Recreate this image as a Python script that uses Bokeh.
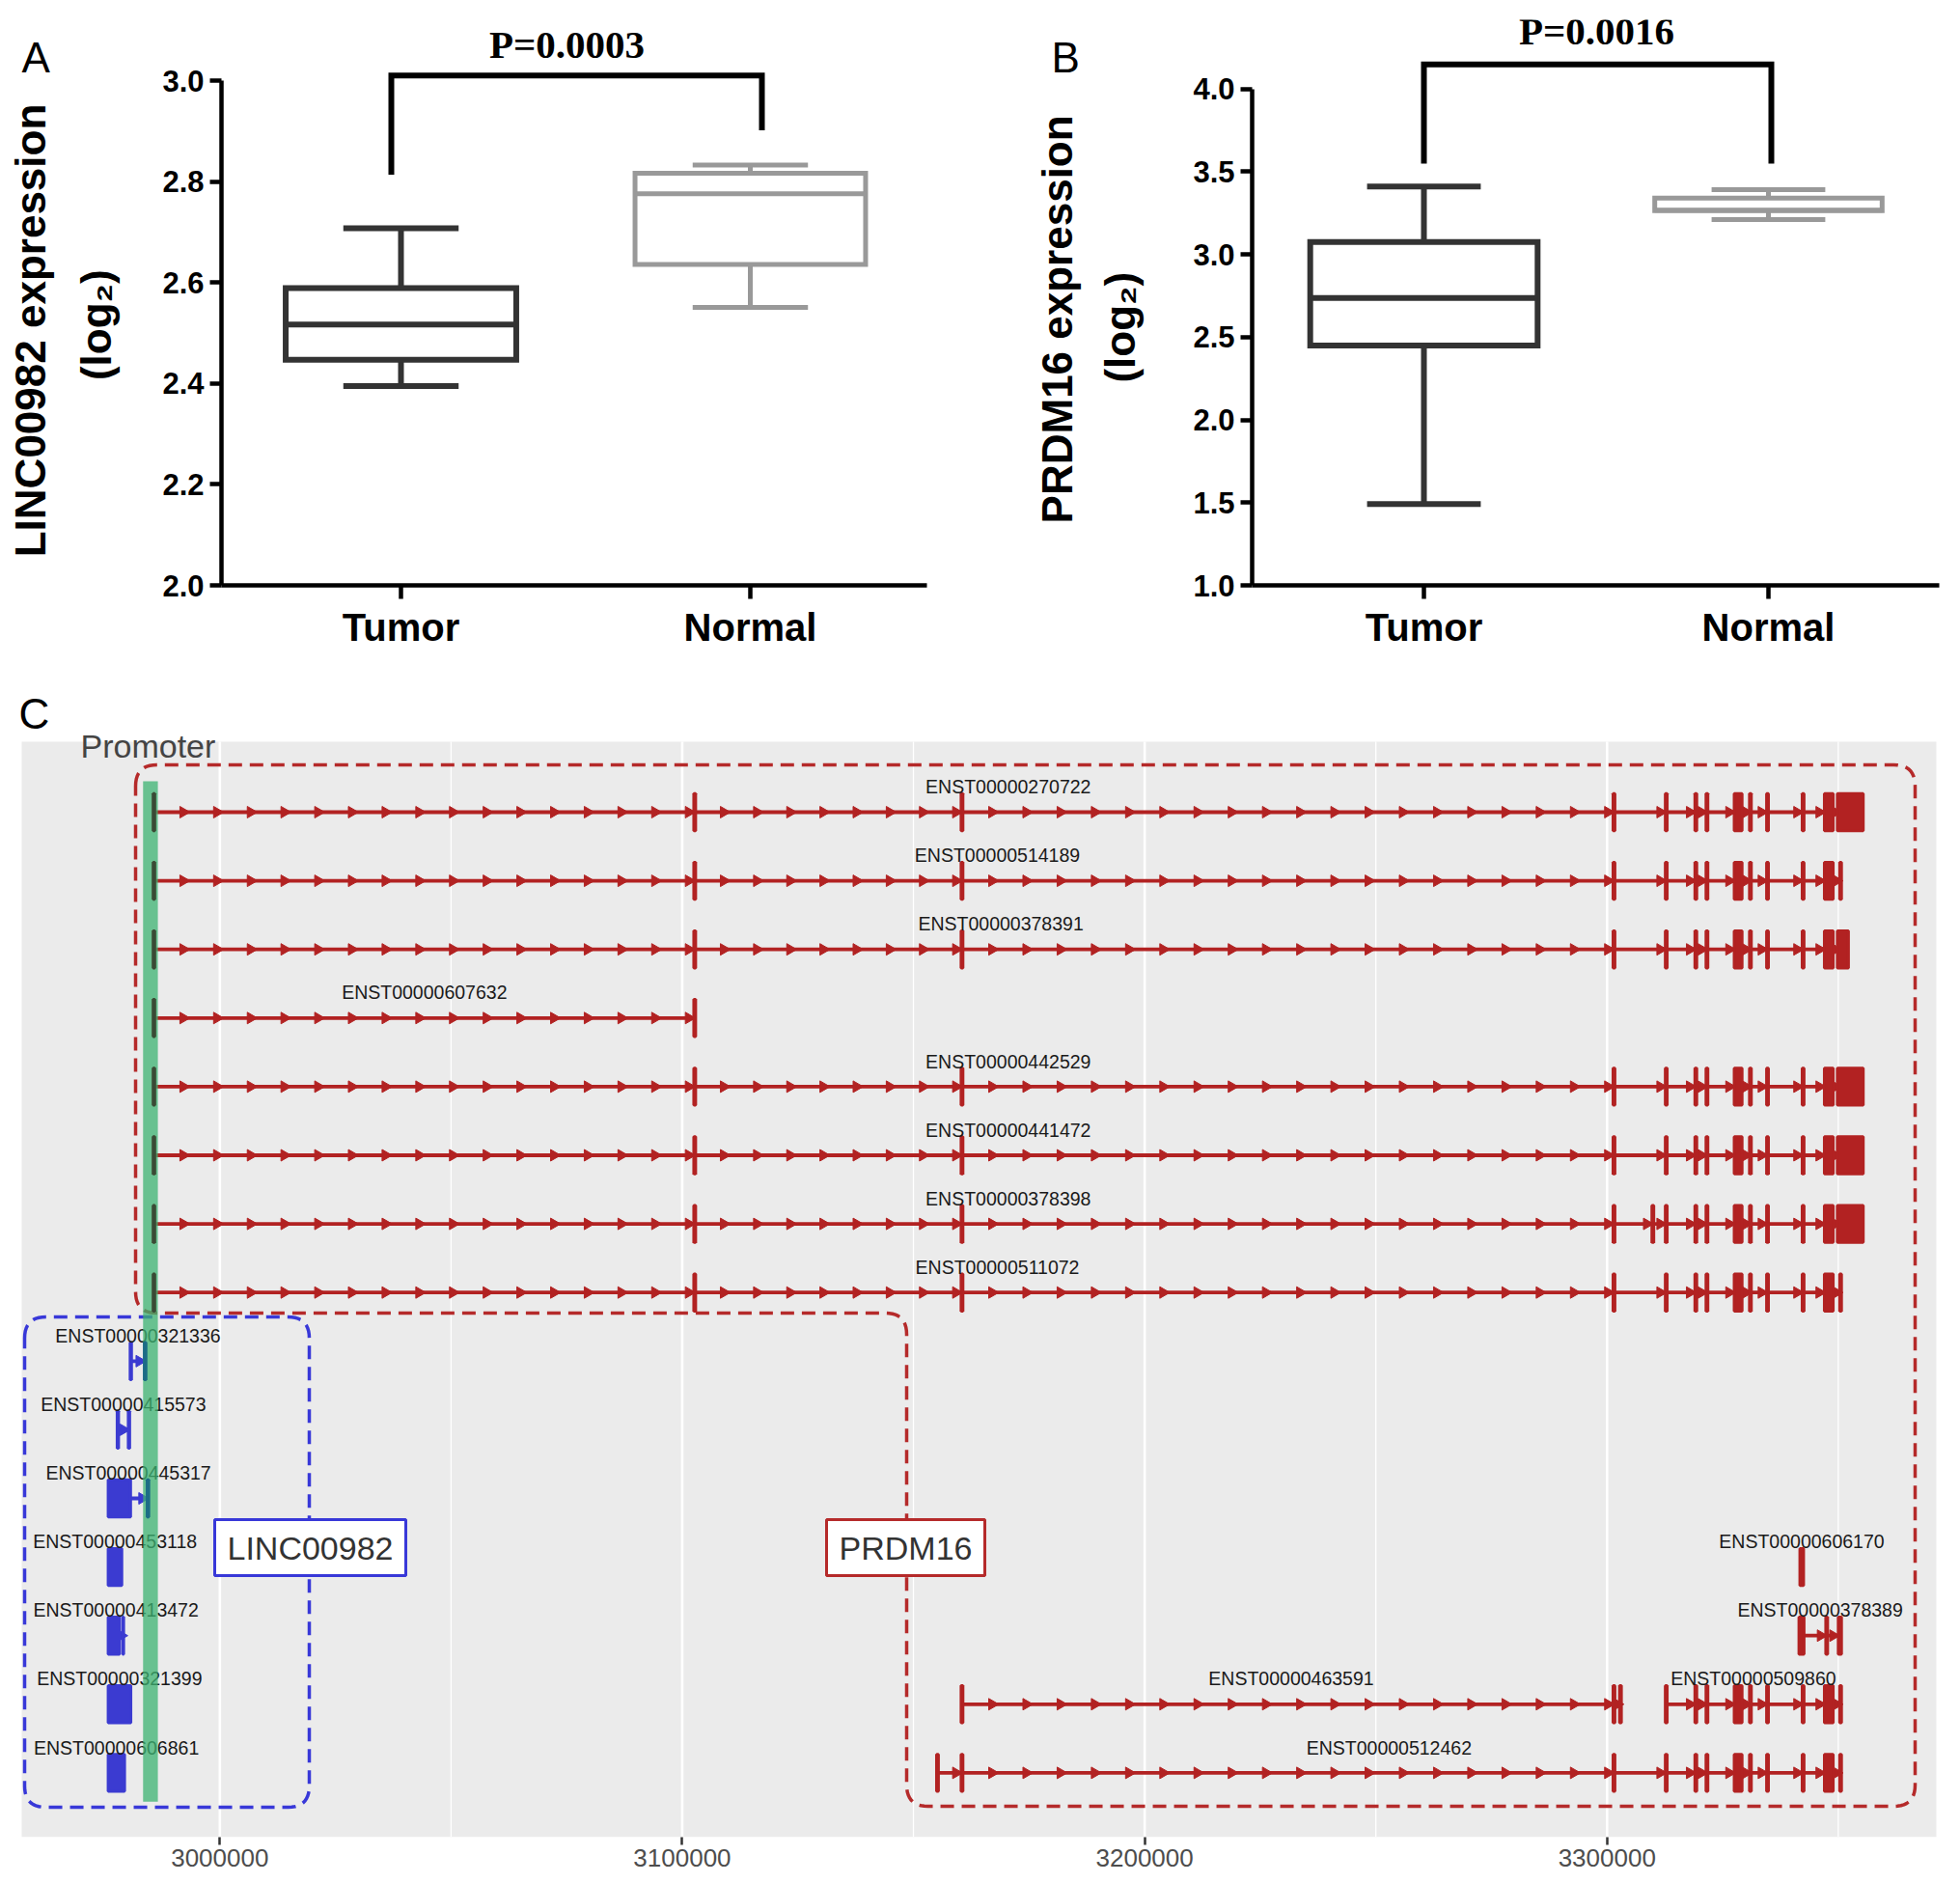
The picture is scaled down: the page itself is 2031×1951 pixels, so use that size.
import math
import numpy as np
from bokeh.plotting import figure
from bokeh.layouts import column, row
from bokeh.models import Range1d, FixedTicker, NumeralTickFormatter
from bokeh.core.properties import value
from bokeh.embed import file_html
from bokeh.resources import INLINE

SANS = "Liberation Sans"
SERIF = "Liberation Serif"

# ---------------- data: panels A & B (box plots) ----------------
categories = ["Tumor", "Normal"]
cat_pos = [1, 2]

linc_low = [2.395, 2.551]
linc_q1 = [2.447, 2.636]
linc_med = [2.517, 2.776]
linc_q3 = [2.589, 2.817]
linc_high = [2.708, 2.833]
linc_ticks = [2.0, 2.2, 2.4, 2.6, 2.8, 3.0]
linc_p = "P=0.0003"
linc_bracket_y = [2.814, 3.0105, 2.902]

prdm_low = [1.492, 3.211]
prdm_q1 = [2.450, 3.265]
prdm_med = [2.737, 3.268]
prdm_q3 = [3.075, 3.340]
prdm_high = [3.410, 3.392]
prdm_ticks = [1.0, 1.5, 2.0, 2.5, 3.0, 3.5, 4.0]
prdm_p = "P=0.0016"
prdm_bracket_y = [3.549, 4.149, 3.549]

box_colors = ["#333333", "#999999"]

# ---------------- data: panel C (transcript structures) ----------------
tick_positions = [3000000, 3100000, 3200000, 3300000]
tick_labels = ["3000000", "3100000", "3200000", "3300000"]
minor_positions = [3050000, 3150000, 3250000, 3350000]

promoter_range = [2983400, 2986600]

prdm16_exons = {
    "x1": (2985600, 2985900), "x2": (3102500, 3102900), "x3": (3160300, 3160700),
    "x4": (3301300, 3301700), "x4b": (3309700, 3310100), "x5": (3312600, 3313000),
    "x6": (3319000, 3319400), "x7": (3321400, 3321800), "x8": (3327500, 3329200),
    "x9": (3330800, 3331200), "x10": (3334500, 3334900), "x11": (3342200, 3342600),
    "x12": (3347000, 3348900), "x13": (3349800, 3355400), "x13s": (3350300, 3350700),
    "x13m": (3349800, 3352200), "a1": (3155000, 3155400),
    "b1": (3301300, 3301700), "b2": (3302700, 3303100),
    "c1": (3341700, 3342500),
    "d1": (3341500, 3342600), "d2": (3347300, 3347700), "d3": (3350000, 3350700),
}
linc_exons = {
    "l9a": (2980600, 2980900), "l9b": (2983700, 2984000),
    "l10a": (2977800, 2978100), "l10b": (2980200, 2980500),
    "l11a": (2975850, 2980700), "l11b": (2984300, 2984600),
    "l12a": (2975850, 2978800),
    "l13a": (2975850, 2978300), "l13b": (2979000, 2979200),
    "l14a": (2975850, 2980750),
    "l15a": (2975850, 2979400),
}

tx_names = ["ENST00000270722", "ENST00000514189", "ENST00000378391", "ENST00000607632",
            "ENST00000442529", "ENST00000441472", "ENST00000378398", "ENST00000511072",
            "ENST00000321336", "ENST00000415573", "ENST00000445317", "ENST00000453118",
            "ENST00000413472", "ENST00000321399", "ENST00000606861",
            "ENST00000606170", "ENST00000378389", "ENST00000463591", "ENST00000509860",
            "ENST00000512462"]
tx_gene = ["PRDM16"] * 8 + ["LINC00982"] * 7 + ["PRDM16"] * 5
tx_row = [1, 2, 3, 4, 5, 6, 7, 8, 9, 10, 11, 12, 13, 14, 15, 12, 13, 14, 14, 15]
_mid = ["x4", "x5", "x6", "x7", "x8", "x9", "x10", "x11", "x12"]
tx_exon_ids = [
    ["x1", "x2", "x3"] + _mid + ["x13"],
    ["x1", "x2", "x3"] + _mid + ["x13s"],
    ["x1", "x2", "x3"] + _mid + ["x13m"],
    ["x1", "x2"],
    ["x1", "x2", "x3"] + _mid + ["x13"],
    ["x1", "x2", "x3"] + _mid + ["x13"],
    ["x1", "x2", "x3", "x4", "x4b"] + _mid[1:] + ["x13"],
    ["x1", "x2", "x3"] + _mid + ["x13s"],
    ["l9a", "l9b"], ["l10a", "l10b"], ["l11a", "l11b"], ["l12a"],
    ["l13a", "l13b"], ["l14a"], ["l15a"],
    ["c1"],
    ["d1", "d2", "d3"],
    ["x3", "b1", "b2"],
    _mid[1:] + ["x13s"],
    ["a1", "x3"] + _mid + ["x13s"],
]

RED = "#B22222"
BLUE = "#3B3BD1"
gene_color = {"PRDM16": RED, "LINC00982": BLUE}
gene_overlap_color = {"PRDM16": "#3A4A36", "LINC00982": "#1C6C86"}


# ---------------- helpers ----------------
def bare(width, height, xr, yr):
    f = figure(width=width, height=height, output_backend="svg", toolbar_location=None,
               x_range=Range1d(*xr), y_range=Range1d(*yr), x_axis_location=None,
               y_axis_location=None, min_border_left=0, min_border_right=0,
               min_border_top=0, min_border_bottom=0)
    f.outline_line_color = None
    f.background_fill_color = "white"
    f.border_fill_color = "white"
    for g in f.grid:
        g.visible = False
    return f


def put_text(p, x, y, text, size, bold=False, angle=0.0, align="left",
             baseline="middle", font=SANS, color="black"):
    p.text(x=[x], y=[y], text=[text], angle=angle, text_align=align,
           text_baseline=baseline, text_font=value(font), text_font_size=size,
           text_color=color, text_font_style="bold" if bold else "normal")


ROT_K = 0.955  # correction (in em) for rotated-text placement


def draw_boxes(p, low, q1, med, q3, high):
    bw, cw = 0.33, 0.165
    for i, x in enumerate(cat_pos):
        c = box_colors[i]
        lw = 6 if i == 0 else 5
        p.segment(x0=[x, x], y0=[q3[i], low[i]], x1=[x, x], y1=[high[i], q1[i]],
                  line_color=c, line_width=lw)
        p.segment(x0=[x - cw, x - cw], y0=[high[i], low[i]], x1=[x + cw, x + cw],
                  y1=[high[i], low[i]], line_color=c, line_width=lw)
        p.quad(left=[x - bw], right=[x + bw], bottom=[q1[i]], top=[q3[i]],
               fill_color="white", line_color=c, line_width=lw, line_join="miter")
        p.segment(x0=[x - bw], y0=[med[i]], x1=[x + bw], y1=[med[i]],
                  line_color=c, line_width=lw)


def style_axes(p, yticks):
    for ax in (p.xaxis[0], p.yaxis[0]):
        ax.axis_line_color = "black"
        ax.axis_line_width = 4.5
        ax.major_tick_line_color = "black"
        ax.major_tick_line_width = 4.5
        ax.major_tick_in = 0
        ax.minor_tick_line_color = None
        ax.major_label_text_font = SANS
        ax.major_label_text_font_style = "bold"
        ax.major_label_text_color = "black"
    xa = p.xaxis[0]
    xa.ticker = FixedTicker(ticks=cat_pos)
    xa.major_label_overrides = {k: v for k, v in zip(cat_pos, categories)}
    xa.major_tick_out = 14
    xa.major_label_text_font_size = "40px"
    xa.major_label_standoff = 7
    ya = p.yaxis[0]
    ya.ticker = FixedTicker(ticks=yticks)
    ya.formatter = NumeralTickFormatter(format="0.0")
    ya.bounds = (yticks[0], yticks[-1])
    ya.major_tick_out = 12
    ya.major_label_text_font_size = "31px"
    ya.major_label_standoff = 6
    p.xgrid.visible = False
    p.ygrid.visible = False
    p.outline_line_color = None
    p.background_fill_color = "white"
    p.border_fill_color = "white"


def vtext(p, x, y_page, text, size_px, align="center"):
    put_text(p, x, -(y_page + ROT_K * size_px), text, "%dpx" % size_px, bold=True,
             angle=math.pi / 2, align=align)


TOP_H = 708

# ---------------- panel A ----------------
sA = bare(150, TOP_H, (0, 150), (-TOP_H, 0))
put_text(sA, 22, -47, "A", "44px")
vtext(sA, 31, 347, "LINC00982 expression", 44)
vtext(sA, 99, 340, "(log\u2082)", 44)

def ax_(X): return 1 + (X - 415) / 362.0
def ay_(Y): return 3.0 - (Y - 83.5) / 524.5

pA = figure(width=914, height=TOP_H, output_backend="svg", toolbar_location=None,
            x_range=Range1d(ax_(229), ax_(960)), y_range=Range1d(2.0, ay_(20)),
            min_border_left=79, min_border_right=104, min_border_top=20,
            min_border_bottom=100)
style_axes(pA, linc_ticks)
draw_boxes(pA, linc_low, linc_q1, linc_med, linc_q3, linc_high)
xl, xr = ax_(405), ax_(789)
pA.line(x=[xl, xl, xr, xr], y=[linc_bracket_y[0], linc_bracket_y[1], linc_bracket_y[1], linc_bracket_y[2]],
        line_color="black", line_width=6, line_join="miter")
put_text(pA, ax_(587), ay_(46), linc_p, "41px", bold=True, align="center", font=SERIF)

# ---------------- panel B ----------------
sB = bare(146, TOP_H, (1064, 1210), (-TOP_H, 0))
put_text(sB, 1089, -47, "B", "44px")
vtext(sB, 1095, 333, "PRDM16 expression", 44)
vtext(sB, 1160, 343, "(log\u2082)", 44)

def bx_(X): return 1 + (X - 1475) / 357.0
def by_(Y): return 4.0 - (Y - 91.5) / 171.43

pB = figure(width=821, height=TOP_H, output_backend="svg", toolbar_location=None,
            x_range=Range1d(bx_(1297), bx_(2009)), y_range=Range1d(1.0, 1.0 + 586 / 171.43),
            min_border_left=87, min_border_right=22, min_border_top=20,
            min_border_bottom=102)
style_axes(pB, prdm_ticks)
draw_boxes(pB, prdm_low, prdm_q1, prdm_med, prdm_q3, prdm_high)
xl, xr = bx_(1475), bx_(1835)
pB.line(x=[xl, xl, xr, xr], y=[prdm_bracket_y[0], prdm_bracket_y[1], prdm_bracket_y[1], prdm_bracket_y[2]],
        line_color="black", line_width=6, line_join="miter")
put_text(pB, bx_(1654), by_(31), prdm_p, "41px", bold=True, align="center", font=SERIF)

# ---------------- panel C ----------------
def gx(X): return 3000000 + (X - 227.3) * 208.7
def ry(Y): return 1 + (Y - 841) / 71.1

C_H = 1242
pC = figure(width=2031, height=C_H, output_backend="svg", toolbar_location=None,
            x_range=Range1d(gx(0), gx(2031)), y_range=Range1d(ry(1903), ry(TOP_H)),
            min_border_left=0, min_border_right=0, min_border_top=0,
            min_border_bottom=C_H - (1903 - TOP_H), y_axis_location=None)
pC.background_fill_color = "white"
pC.border_fill_color = "white"
pC.outline_line_color = None
for g in pC.grid:
    g.visible = False
tk = FixedTicker(ticks=tick_positions, minor_ticks=minor_positions)
xa = pC.xaxis[0]
xa.ticker = tk
xa.axis_line_color = None
xa.major_tick_in = 0
xa.major_tick_out = 8
xa.major_tick_line_color = "#333333"
xa.major_tick_line_width = 2.5
xa.minor_tick_line_color = None
xa.major_label_overrides = {k: v for k, v in zip(tick_positions, tick_labels)}
xa.major_label_text_font = SANS
xa.major_label_text_font_size = "26px"
xa.major_label_text_color = "#4D4D4D"
xa.major_label_standoff = 4

# grey panel and its grid
g_top, g_bot = ry(768), ry(1903)
pC.quad(left=[gx(22)], right=[gx(2006)], top=[g_top], bottom=[g_bot],
        fill_color="#EBEBEB", line_color=None)
pC.segment(x0=minor_positions, x1=minor_positions, y0=[g_top] * 4, y1=[g_bot] * 4,
           line_color="white", line_width=1.3)
pC.segment(x0=tick_positions, x1=tick_positions, y0=[g_top] * 4, y1=[g_bot] * 4,
           line_color="white", line_width=2.6)


def rounded_path(pts, r, n=12):
    xs, ys = [], []
    m = len(pts)
    for i in range(m):
        P = np.array(pts[i], float)
        A = np.array(pts[i - 1], float)
        B = np.array(pts[(i + 1) % m], float)
        u = (A - P) / np.linalg.norm(A - P)
        v = (B - P) / np.linalg.norm(B - P)
        Q1, Q2 = P + r * u, P + r * v
        for t in np.linspace(0, 1, n):
            q = (1 - t) ** 2 * Q1 + 2 * t * (1 - t) * P + t ** 2 * Q2
            xs.append(q[0]); ys.append(q[1])
    xs.append(xs[0]); ys.append(ys[0])
    return [gx(x) for x in xs], [ry(y) for y in ys]


# dashed gene outlines (pixel layout of the reference)
rxs, rys = rounded_path([(140, 792), (1984, 792), (1984, 1871), (939, 1871), (939, 1360), (140, 1360)], 22)
pC.line(rxs, rys, line_color="#B52A2A", line_width=3.5, line_dash="14 8")
bxs, bys = rounded_path([(25, 1364), (320, 1364), (320, 1872), (25, 1872)], 22)
pC.line(bxs, bys, line_color="#3838D8", line_width=3.5, line_dash="14 8")

# transcripts
exon_half = 0.27
overlaps = []
for name, gene, r, ids in zip(tx_names, tx_gene, tx_row, tx_exon_ids):
    table = prdm16_exons if gene == "PRDM16" else linc_exons
    ex = sorted(table[i] for i in ids)
    col = gene_color[gene]
    s0 = min(e[0] for e in ex)
    e1 = max(e[1] for e in ex)
    if len(ex) > 1:
        pC.segment(x0=[s0], y0=[r], x1=[e1], y1=[r], line_color=col, line_width=3.8)
        ax_pts = []
        for a, b in zip(ex[:-1], ex[1:]):
            L = b[0] - a[1]
            if L <= 0:
                continue
            n = max(1, int(round(L / 7300.0)))
            off = min(1100, L / 2.0)
            ax_pts += [a[1] + k * L / n - off for k in range(1, n + 1)]
        pC.scatter(x=ax_pts, y=[r] * len(ax_pts), marker="triangle", angle=-math.pi / 2,
                   size=12, fill_color=col, line_color=col)
    pC.quad(left=[e[0] for e in ex], right=[e[1] for e in ex],
            top=[r - exon_half] * len(ex), bottom=[r + exon_half] * len(ex),
            fill_color=col, line_color=col, line_width=3)
    for e in ex:
        lo, hi = max(e[0], promoter_range[0]), min(e[1], promoter_range[1])
        if lo < hi:
            overlaps.append((lo, hi, r, gene_overlap_color[gene]))
    pC.text(x=[(s0 + e1) / 2.0], y=[r - 0.37], text=[name], text_font=value(SANS),
            text_font_size="19.5px", text_color="#1A1A1A", text_align="center",
            text_baseline="middle")

# promoter band
pC.quad(left=[promoter_range[0]], right=[promoter_range[1]], top=[0.55], bottom=[15.42],
        fill_color="mediumseagreen", fill_alpha=0.75, line_color=None)
if overlaps:
    pC.quad(left=[o[0] for o in overlaps], right=[o[1] for o in overlaps],
            top=[o[2] - exon_half for o in overlaps], bottom=[o[2] + exon_half for o in overlaps],
            fill_color=[o[3] for o in overlaps], line_color=[o[3] for o in overlaps], line_width=3)

# gene name boxes
for gname, cx, w, col in [("LINC00982", 321, 198, "#3838D8"), ("PRDM16", 938, 164, "#B52A2A")]:
    pC.rect(x=[gx(cx)], y=[ry(1603)], width=w, height=58, width_units="screen",
            height_units="screen", fill_color="white", line_color=col, line_width=3)
    put_text(pC, gx(cx), ry(1603), gname, "34px", align="center", color="#333333")

put_text(pC, gx(83), ry(772), "Promoter", "34px", color="#444444")
put_text(pC, gx(19), ry(739), "C", "44px")

layout = column(row(sA, pA, sB, pB), pC)
open("out.html", "w").write(file_html(layout, INLINE))
